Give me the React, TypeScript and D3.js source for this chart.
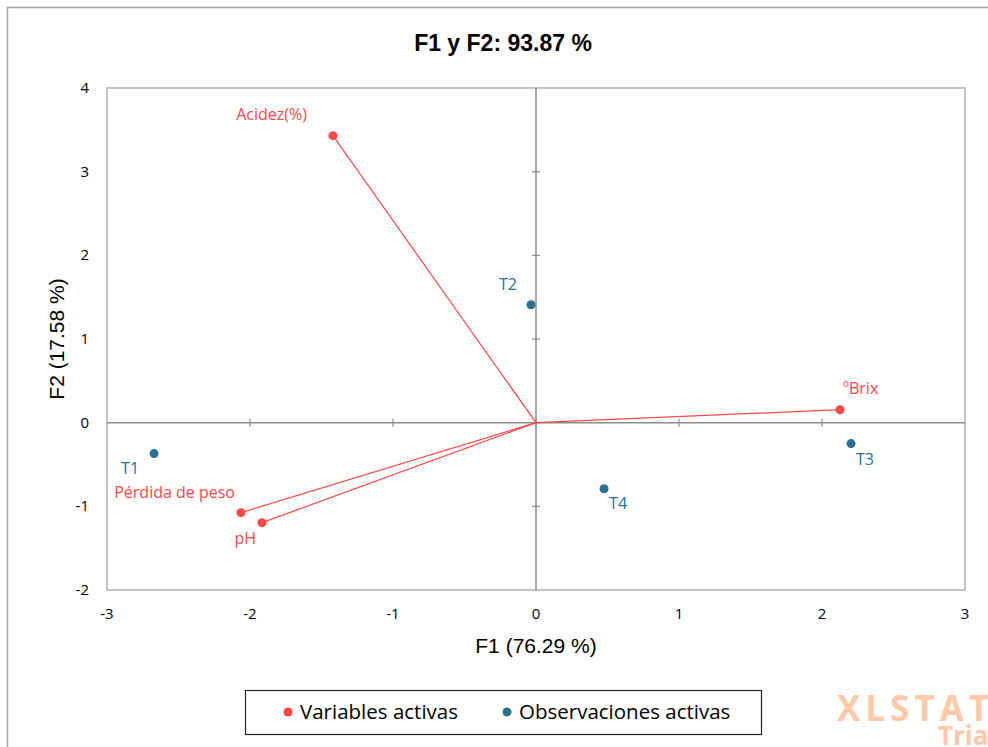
import React from "react";
import * as d3 from "d3";

const varNames = ["Acidez(%)", "ºBrix", "Pérdida de peso", "pH"];
const varF1 = [-1.42, 2.126, -2.063, -1.916];
const varF2 = [3.43, 0.155, -1.076, -1.195];

const obsNames = ["T1", "T2", "T3", "T4"];
const obsF1 = [-2.671, -0.035, 2.203, 0.476];
const obsF2 = [-0.37, 1.41, -0.25, -0.79];

const xTicks = [-3, -2, -1, 0, 1, 2, 3];
const yTicks = [-2, -1, 0, 1, 2, 3, 4];

// label placement styles (offset from point, anchor)
const labelStyle: Record<string, { dx: number; dy: number; anchor: string }> = {
  "Acidez(%)": { dx: -26, dy: -16, anchor: "end" },
  "ºBrix": { dx: 3, dy: -16, anchor: "start" },
  "Pérdida de peso": { dx: -6, dy: -15, anchor: "end" },
  pH: { dx: -6, dy: 21, anchor: "end" },
  T1: { dx: -15, dy: 20, anchor: "end" },
  T2: { dx: -14, dy: -15, anchor: "end" },
  T3: { dx: 5, dy: 21, anchor: "start" },
  T4: { dx: 5, dy: 20, anchor: "start" },
};

const RED = "#fe4848";
const BLUE = "#2b6f95";

const labelFont = "'Open Sans', 'Noto Sans', sans-serif";
const arial = "'Liberation Sans', Arial, sans-serif";

export default function App() {
  const W = 988, H = 747;
  const left = 107, right = 965, top = 88, bottom = 590;
  const x = d3.scaleLinear().domain([-3, 3]).range([left, right]);
  const y = d3.scaleLinear().domain([-2, 4]).range([bottom, top]);
  const x0 = x(0), y0 = y(0);

  const renderPoint = (n: string, px: number, py: number, color: string, key: string) => {
    const ls = labelStyle[n];
    return (
      <g key={key}>
        <circle cx={px} cy={py} r={4.5} fill={color} />
        <text x={px + ls.dx} y={py + ls.dy} textAnchor={ls.anchor as any} fontFamily={labelFont} fontSize={16} fill={color}>
          {n}
        </text>
      </g>
    );
  };

  return (
    <svg width={W} height={H} style={{ position: "absolute", left: 0, top: 0 }}>
      <rect x={0} y={0} width={W} height={H} fill="#fff" />
      <path d={`M7.5,${H + 5} V7.5 H${W + 5}`} fill="none" stroke="#a6a6a6" strokeWidth={1.5} />
      <text x={503} y={51} textAnchor="middle" fontFamily={arial} fontWeight="bold" fontSize={23} fill="#000">
        F1 y F2: 93.87 %
      </text>
      <rect x={left} y={top} width={right - left} height={bottom - top} fill="none" stroke="#c4c4c4" strokeWidth={2} />
      <line x1={left} x2={right} y1={y0} y2={y0} stroke="#8c8c8c" strokeWidth={1.5} />
      <line x1={x0} x2={x0} y1={top} y2={bottom} stroke="#8c8c8c" strokeWidth={1.5} />
      {xTicks.map((t) => (
        <g key={"xt" + t}>
          {t !== -3 && t !== 3 && (
            <line x1={x(t)} x2={x(t)} y1={y0 - 4} y2={y0 + 4} stroke="#8c8c8c" strokeWidth={1.2} />
          )}
          <text x={x(t)} y={bottom + 29} textAnchor="middle" fontFamily={labelFont} fontSize={15} fill="#000">
            {t}
          </text>
        </g>
      ))}
      {yTicks.map((t) => (
        <g key={"yt" + t}>
          {t !== -2 && t !== 4 && (
            <line x1={x0 - 4} x2={x0 + 4} y1={y(t)} y2={y(t)} stroke="#8c8c8c" strokeWidth={1.2} />
          )}
          <text x={89} y={y(t) + 5} textAnchor="end" fontFamily={labelFont} fontSize={15} fill="#000">
            {t}
          </text>
        </g>
      ))}
      <text x={536} y={653} textAnchor="middle" fontFamily={arial} fontSize={21} fill="#000">
        F1 (76.29 %)
      </text>
      <text
        transform={`translate(64,${(top + bottom) / 2}) rotate(-90)`}
        textAnchor="middle"
        fontFamily={arial}
        fontSize={21}
        fill="#000"
      >
        F2 (17.58 %)
      </text>
      {varNames.map((n, i) => (
        <line key={"vl" + i} x1={x0} y1={y0} x2={x(varF1[i])} y2={y(varF2[i])} stroke={RED} strokeWidth={1.2} />
      ))}
      {varNames.map((n, i) => renderPoint(n, x(varF1[i]), y(varF2[i]), RED, "vp" + i))}
      {obsNames.map((n, i) => renderPoint(n, x(obsF1[i]), y(obsF2[i]), BLUE, "op" + i))}
      <rect x={245.5} y={690.5} width={516} height={44} fill="#fff" stroke="#222" strokeWidth={1.2} />
      <circle cx={288} cy={712} r={4.5} fill={RED} />
      <text x={300} y={719} fontFamily={labelFont} fontSize={20.5} fill="#000">Variables activas</text>
      <circle cx={507} cy={712} r={4.5} fill={BLUE} />
      <text x={519} y={719} fontFamily={labelFont} fontSize={20.5} fill="#000">Observaciones activas</text>
      <text x={837} y={721} fontFamily={"'Open Sans', sans-serif"} fontWeight="bold" fontSize={35} letterSpacing={5} fill="#ffc8a8">
        XLSTAT
      </text>
      <text x={938} y={745} fontFamily={"'Open Sans', sans-serif"} fontWeight="bold" fontSize={26} fill="#ffc8a8">
        Tria
      </text>
    </svg>
  );
}
